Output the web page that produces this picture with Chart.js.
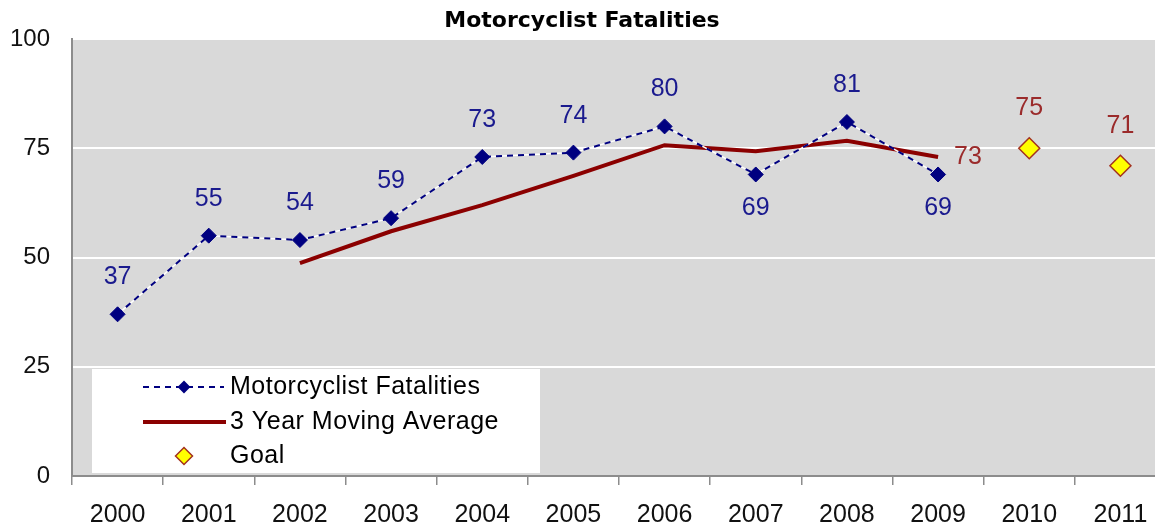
<!DOCTYPE html>
<html>
<head>
<meta charset="utf-8">
<title>Motorcyclist Fatalities</title>
<script src="https://cdn.jsdelivr.net/npm/chart.js@4/dist/chart.umd.min.js"></script>
<style>
  html, body { margin: 0; padding: 0; background: #fff; overflow: hidden; }
  #wrap { width: 1155px; height: 527px; overflow: hidden; }
  canvas { display: block; }
</style>
</head>
<body>
<!-- the original plot runs a few pixels past the right edge, so the canvas is wider and clipped -->
<div id="wrap"><canvas id="chart" width="1178" height="527"></canvas></div>
<script>
// ── Data ────────────────────────────────────────────────────────────────
const years = ['2000', '2001', '2002', '2003', '2004', '2005', '2006', '2007', '2008', '2009', '2010', '2011'];
const fatalities = [37, 55, 54, 59, 73, 74, 80, 69, 81, 69, null, null];
const movingAvg = [null, null, 48.7, 56, 62, 68.7, 75.7, 74.3, 76.7, 73, null, null];
const goals = [null, null, null, null, null, null, null, null, null, null, 75, 71];
const labelsBelow = [7, 9]; // fatalities labels drawn under the marker

// ── Colours / fonts ─────────────────────────────────────────────────────
const NAVY = '#000080';
const MAROON = '#8b0000';
const GOAL_EDGE = '#a3321f';
const TEXT_FONT = '"Liberation Sans", Arial, sans-serif';

const plotBackground = {
    id: 'plotBackground',
    beforeDraw(chart) {
        const { ctx, chartArea: a } = chart;
        ctx.save();
        ctx.fillStyle = '#d9d9d9';
        ctx.fillRect(a.left, a.top, a.right - a.left, a.bottom - a.top);
        ctx.restore();
    }
};

// the dashed series shows white in its gaps, so lay a thin white line under it
const dashUnderlay = {
    id: 'dashUnderlay',
    beforeDatasetDraw(chart, args) {
        if (args.index !== 0) return;
        const ctx = chart.ctx;
        const pts = args.meta.data.filter((p, i) => fatalities[i] != null);
        ctx.save();
        ctx.strokeStyle = '#ffffff';
        ctx.lineWidth = 1.5;
        ctx.beginPath();
        pts.forEach((p, i) => (i ? ctx.lineTo(p.x, p.y) : ctx.moveTo(p.x, p.y)));
        ctx.stroke();
        ctx.restore();
    }
};

const titlePlugin = {
    id: 'titleText',
    afterDraw(chart) {
        const ctx = chart.ctx;
        ctx.save();
        ctx.font = 'bold 22px "DejaVu Sans", Verdana, sans-serif';
        ctx.fillStyle = '#000';
        ctx.textAlign = 'center';
        ctx.textBaseline = 'middle';
        ctx.fillText('Motorcyclist Fatalities', 582, 21);
        ctx.restore();
    }
};

const valueLabels = {
    id: 'valueLabels',
    afterDatasetsDraw(chart) {
        const ctx = chart.ctx;
        ctx.save();
        ctx.font = '25px ' + TEXT_FONT;
        ctx.textBaseline = 'middle';

        // fatalities
        chart.getDatasetMeta(0).data.forEach((pt, i) => {
            const v = fatalities[i];
            if (v == null) return;
            ctx.fillStyle = '#1a1a8e';
            ctx.textAlign = 'center';
            const dy = labelsBelow.includes(i) ? 34 : -37;
            ctx.fillText(String(v), pt.x, pt.y + dy);
        });

        // moving average, last point only
        const maPts = chart.getDatasetMeta(1).data;
        let last = -1;
        movingAvg.forEach((v, i) => { if (v != null) last = i; });
        if (last >= 0) {
            ctx.fillStyle = '#9b2b2b';
            ctx.textAlign = 'left';
            ctx.fillText(String(Math.round(movingAvg[last])), maPts[last].x + 16, maPts[last].y);
        }

        // goals
        chart.getDatasetMeta(2).data.forEach((pt, i) => {
            const v = goals[i];
            if (v == null) return;
            ctx.fillStyle = '#9b2b2b';
            ctx.textAlign = 'center';
            ctx.fillText(String(v), pt.x, pt.y - 40);
        });
        ctx.restore();
    }
};

const boxLegend = {
    id: 'boxLegend',
    afterDraw(chart) {
        const ctx = chart.ctx;
        ctx.save();
        ctx.fillStyle = '#fff';
        ctx.fillRect(92, 369, 448, 104);

        const rows = [387, 422, 456];
        // row 1: dashed line + diamond
        ctx.strokeStyle = NAVY;
        ctx.lineWidth = 2;
        ctx.setLineDash([6, 5]);
        ctx.beginPath();
        ctx.moveTo(143, rows[0]);
        ctx.lineTo(224, rows[0]);
        ctx.stroke();
        ctx.setLineDash([]);
        Chart.helpers.drawPoint(ctx, { pointStyle: 'rectRot', radius: 5, borderWidth: 1 }, 184, rows[0]);
        ctx.fillStyle = NAVY;
        ctx.fill();

        // row 2: solid maroon
        ctx.strokeStyle = MAROON;
        ctx.lineWidth = 4;
        ctx.beginPath();
        ctx.moveTo(143, rows[1]);
        ctx.lineTo(226, rows[1]);
        ctx.stroke();

        // row 3: goal diamond
        ctx.fillStyle = '#ffff00';
        ctx.strokeStyle = GOAL_EDGE;
        ctx.lineWidth = 1.5;
        Chart.helpers.drawPoint(ctx, { pointStyle: 'rectRot', radius: 8.5, borderWidth: 1.5 }, 184, rows[2]);

        ctx.fillStyle = '#000';
        ctx.font = '25px ' + TEXT_FONT;
        if ('letterSpacing' in ctx) ctx.letterSpacing = '0.5px';
        ctx.textAlign = 'left';
        ctx.textBaseline = 'middle';
        ['Motorcyclist Fatalities', '3 Year Moving Average', 'Goal'].forEach((t, i) => {
            ctx.fillText(t, 230, rows[i]);
        });
        ctx.restore();
    }
};

new Chart(document.getElementById('chart'), {
    type: 'line',
    data: {
        labels: years,
        datasets: [
            {
                label: 'Motorcyclist Fatalities',
                data: fatalities,
                borderColor: NAVY,
                borderWidth: 2,
                borderDash: [6, 5],
                pointStyle: 'rectRot',
                pointRadius: 7.5,
                pointBackgroundColor: NAVY,
                pointBorderColor: NAVY,
                pointBorderWidth: 1,
                tension: 0
            },
            {
                label: '3 Year Moving Average',
                data: movingAvg,
                borderColor: MAROON,
                borderWidth: 4,
                pointRadius: 0,
                tension: 0
            },
            {
                label: 'Goal',
                data: goals,
                showLine: false,
                pointStyle: 'rectRot',
                pointRadius: 10.5,
                pointBackgroundColor: '#ffff00',
                pointBorderColor: GOAL_EDGE,
                pointBorderWidth: 1.5
            }
        ]
    },
    options: {
        responsive: false,
        animation: false,
        layout: { padding: { top: 39, right: 0, bottom: 0, left: 0 } },
        plugins: {
            legend: { display: false },
            title: { display: false },
            tooltip: { enabled: false }
        },
        scales: {
            x: {
                offset: true,
                grid: {
                    offset: true,
                    drawOnChartArea: false,
                    drawTicks: true,
                    tickLength: 9,
                    color: '#8c8c8c',
                    lineWidth: 1.5
                },
                border: { color: '#8c8c8c', width: 2 },
                ticks: { color: '#111', font: { size: 25, family: TEXT_FONT }, padding: 15, maxRotation: 0, autoSkip: false },
                afterFit(s) { s.height = 51; s.paddingLeft = 0; s.paddingRight = 0; }
            },
            y: {
                min: 0,
                max: 100,
                grid: {
                    drawTicks: false,
                    color: c => (c.tick && c.tick.value === 0 ? 'rgba(0,0,0,0)' : '#ffffff'),
                    lineWidth: 2
                },
                border: { color: '#8c8c8c', width: 2 },
                ticks: { stepSize: 25, color: '#111', font: { size: 24, family: TEXT_FONT }, padding: 22 },
                afterFit(s) { s.width = 72; }
            }
        }
    },
    plugins: [plotBackground, dashUnderlay, valueLabels, boxLegend, titlePlugin]
});
</script>
</body>
</html>
